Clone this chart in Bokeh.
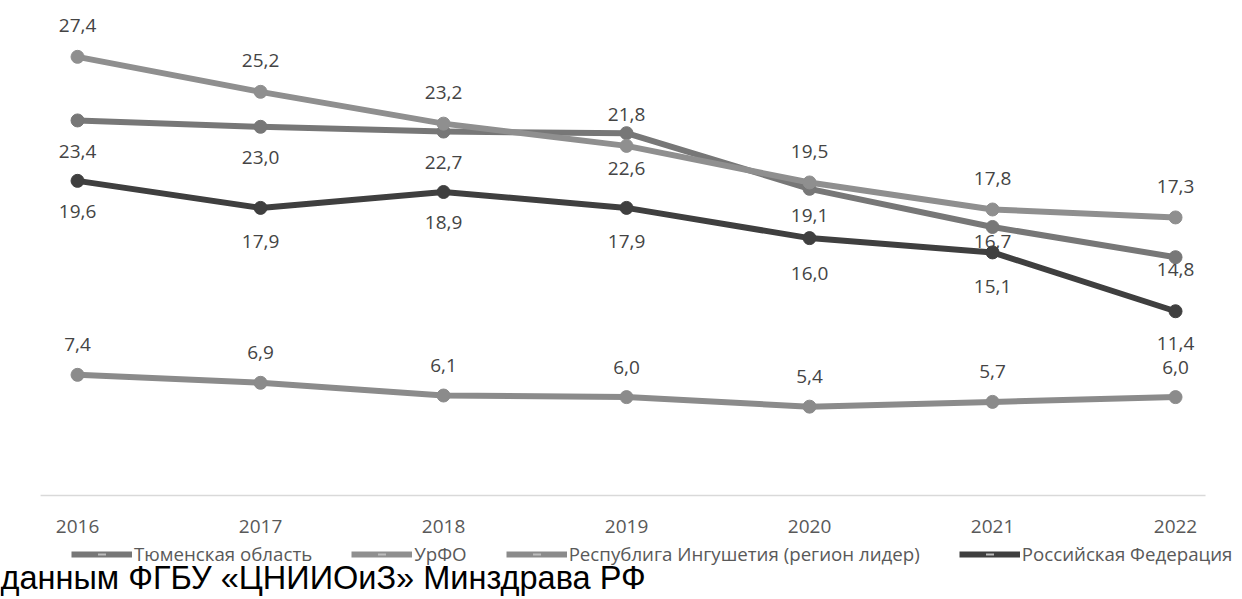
from bokeh.plotting import figure
from bokeh.models import Range1d, FixedTicker, Legend, LegendItem, Label, ColumnDataSource
from bokeh.layouts import column
from bokeh.embed import file_html
from bokeh.resources import INLINE
from bokeh.core.properties import value
import math

# ---- data ----
years = [2016, 2017, 2018, 2019, 2020, 2021, 2022]
tyumen = [23.4, 23.0, 22.7, 22.6, 19.1, 16.7, 14.8]
urfo = [27.4, 25.2, 23.2, 21.8, 19.5, 17.8, 17.3]
ingush = [7.4, 6.9, 6.1, 6.0, 5.4, 5.7, 6.0]
russia = [19.6, 17.9, 18.9, 17.9, 16.0, 15.1, 11.4]
series_names = ["Тюменская область", "УрФО", "Республига Ингушетия (регион лидер)", "Российская Федерация"]
footer_text = "данным ФГБУ «ЦНИИОиЗ» Минздрава РФ"

# ---- styles ----
colors = ["#777777", "#8f8f8f", "#8b8b8b", "#3f3f3f"]
label_offsets = [[31, 31, 31, 35, 27, 15, 12],   # below
                 [-31] * 7,                       # above
                 [-30] * 7,                       # above
                 [31, 34, 31, 34, 35, 34, 32]]    # below
FONT = "Open Sans"

W = 1242
PX_PER_UNIT = 15.9
FRAME_H = 497
AXIS_H = 43
y0 = -0.314

p = figure(width=W, height=FRAME_H + AXIS_H,
           x_range=Range1d(2015.579, 2022.366),
           y_range=Range1d(y0, y0 + FRAME_H / PX_PER_UNIT),
           output_backend="svg", toolbar_location=None,
           y_axis_location=None, min_border=0, min_border_bottom=AXIS_H,
           outline_line_color=None, background_fill_color="white",
           border_fill_color="white")
p.grid.visible = False

ax = p.xaxis[0]
ax.ticker = FixedTicker(ticks=years)
ax.axis_line_color = None
ax.major_tick_line_color = None
ax.minor_tick_line_color = None
ax.major_tick_out = 0
ax.major_label_standoff = 22
ax.major_label_text_font = FONT
ax.major_label_text_font_size = "19px"
ax.major_label_text_color = "#595959"

# horizontal axis line
p.segment(x0=[2015.798], y0=[-0.19], x1=[2022.164], y1=[-0.19],
          line_color="#d9d9d9", line_width=1.5)

all_series = [tyumen, urfo, ingush, russia]

# data labels first (beneath the lines)
for vals, offs in zip(all_series, label_offsets):
    src = ColumnDataSource(dict(x=years, y=vals,
                                t=[f"{v:.1f}".replace(".", ",") for v in vals],
                                off=offs))
    p.text(x="x", y="y", text="t", y_offset="off", source=src,
           text_font=value(FONT), text_font_size="19px", text_color="#444444",
           text_align="center", text_baseline="middle")

for vals, col in zip(all_series, colors):
    p.line(years, vals, line_color=col, line_width=6, line_join="round")
    p.scatter(years, vals, size=13, fill_color=col, line_color=col)

# ---- legend + source note strip ----
H2 = 599 - (FRAME_H + AXIS_H)
p2 = figure(width=W, height=H2, x_range=Range1d(0, W), y_range=Range1d(0, H2),
            output_backend="svg", toolbar_location=None,
            x_axis_location=None, y_axis_location=None, min_border=0,
            outline_line_color=None, background_fill_color="white",
            border_fill_color="white")
p2.grid.visible = False

items = []
for col, name in zip(colors, series_names):
    # legend-only renderers, placed outside the visible range
    lr = p2.line(x=[-500, -400], y=[-500, -500], line_color=col, line_width=6)
    tick = p2.scatter(x=[-500], y=[-500], marker="dash", angle=math.pi / 2,
                      size=9, line_color="#bdbdbd", line_width=2)
    items.append(LegendItem(label=name, renderers=[lr, tick]))

legend = Legend(items=items, orientation="horizontal", location=(71, 33),
                label_text_font=FONT, label_text_font_size="18.7px",
                label_text_color="#595959", glyph_width=61, glyph_height=20,
                label_standoff=2, spacing=39, margin=0, padding=0,
                border_line_color=None, background_fill_alpha=0)
p2.add_layout(legend, "center")

p2.add_layout(Label(x=0, y=22, text=footer_text, text_font="Liberation Sans",
                    text_font_size="32.5px", text_color="black",
                    text_baseline="middle", text_align="left"))

layout = column(p, p2, spacing=0)
open("out.html", "w").write(file_html(layout, INLINE))
